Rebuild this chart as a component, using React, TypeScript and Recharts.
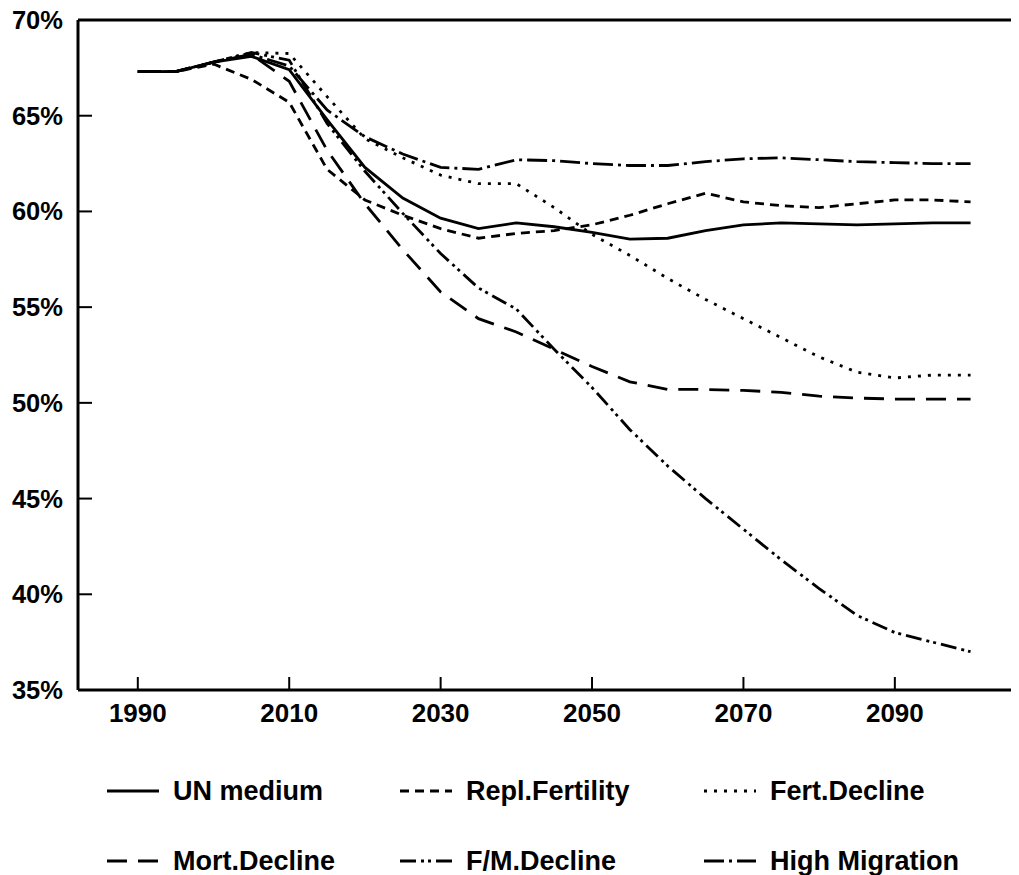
import React from "react";
import { LineChart, Line, XAxis, YAxis, ReferenceLine } from "recharts";

const years = [1990, 1995, 2000, 2005, 2010, 2015, 2020, 2025, 2030, 2035, 2040, 2045, 2050, 2055, 2060, 2065, 2070, 2075, 2080, 2085, 2090, 2095, 2100];
const unMedium = [67.3, 67.3, 67.8, 68.1, 67.4, 64.8, 62.3, 60.7, 59.65, 59.1, 59.4, 59.2, 58.9, 58.55, 58.6, 59.0, 59.3, 59.4, 59.35, 59.3, 59.35, 59.4, 59.4];
const replFertility = [67.3, 67.3, 67.7, 66.9, 65.7, 62.2, 60.6, 59.8, 59.1, 58.6, 58.85, 59.0, 59.3, 59.8, 60.4, 60.95, 60.5, 60.3, 60.2, 60.4, 60.6, 60.6, 60.5];
const fertDecline = [67.3, 67.3, 67.8, 68.3, 68.25, 66.0, 63.8, 62.8, 61.9, 61.45, 61.45, 60.2, 58.8, 57.7, 56.5, 55.4, 54.4, 53.4, 52.4, 51.6, 51.3, 51.45, 51.45];
const mortDecline = [67.3, 67.3, 67.8, 68.2, 66.8, 63.2, 60.4, 58.0, 55.8, 54.4, 53.7, 52.8, 51.9, 51.1, 50.7, 50.7, 50.65, 50.55, 50.35, 50.25, 50.2, 50.2, 50.2];
const fmDecline = [67.3, 67.3, 67.8, 68.3, 67.9, 64.6, 62.1, 59.9, 57.8, 56.0, 54.9, 52.8, 50.8, 48.6, 46.7, 45.0, 43.4, 41.8, 40.3, 38.9, 38.0, 37.5, 37.0];
const highMigration = [67.3, 67.3, 67.8, 68.2, 67.6, 65.3, 63.9, 63.0, 62.3, 62.2, 62.7, 62.65, 62.5, 62.4, 62.4, 62.6, 62.75, 62.8, 62.7, 62.6, 62.55, 62.5, 62.5];

const xTicks = [1990, 2010, 2030, 2050, 2070, 2090];
const yTicks = [35, 40, 45, 50, 55, 60, 65, 70];

const series = [
  { key: "un", name: "UN medium", values: unMedium, dash: undefined as string | undefined },
  { key: "repl", name: "Repl.Fertility", values: replFertility, dash: "9 6" },
  { key: "fert", name: "Fert.Decline", values: fertDecline, dash: "3 7" },
  { key: "mort", name: "Mort.Decline", values: mortDecline, dash: "20 11" },
  { key: "fm", name: "F/M.Decline", values: fmDecline, dash: "16 5 3 4 3 5" },
  { key: "hm", name: "High Migration", values: highMigration, dash: "20 5 3 5" },
];

const data = years.map((year, i) => {
  const row: Record<string, number> = { year };
  series.forEach((s) => {
    row[s.key] = s.values[i];
  });
  return row;
});

const FONT = '"Liberation Sans", Arial, Helvetica, sans-serif';

const XTick = (props: any) => {
  const { x, y, payload } = props;
  return (
    <g>
      <line x1={x} y1={y} x2={x} y2={y - 13} stroke="#000" strokeWidth={2} />
      <text x={x} y={y + 32} textAnchor="middle" fontFamily={FONT} fontWeight={700} fontSize={26} fill="#000">
        {payload.value}
      </text>
    </g>
  );
};

const YTick = (props: any) => {
  const { x, y, payload } = props;
  return (
    <g>
      <line x1={x} y1={y} x2={x + 14} y2={y} stroke="#000" strokeWidth={2} />
      <text x={x - 15} y={y + 9} textAnchor="end" fontFamily={FONT} fontWeight={700} fontSize={25.5} fill="#000">
        {payload.value}%
      </text>
    </g>
  );
};

const legendRows = [series.slice(0, 3), series.slice(3, 6)];
const colStarts = [99, 392, 696];

export default function App() {
  return (
    <div style={{ width: 1011, position: "relative", background: "#fff", marginTop: -8 }}>
      <LineChart width={1011} height={738} data={data} margin={{ top: 20, right: 0, bottom: 0, left: 0 }}>
        <XAxis
          dataKey="year"
          type="number"
          domain={[1982.1, 2106.4]}
          ticks={xTicks}
          allowDataOverflow
          height={48}
          tickSize={0}
          tickMargin={0}
          tickLine={false}
          axisLine={{ stroke: "#000", strokeWidth: 3 }}
          tick={<XTick />}
          interval={0}
        />
        <YAxis
          type="number"
          domain={[35, 70]}
          ticks={yTicks}
          allowDataOverflow
          width={70}
          tickSize={0}
          tickMargin={0}
          tickLine={false}
          axisLine={{ stroke: "#000", strokeWidth: 3 }}
          tick={<YTick />}
          interval={0}
        />
        <ReferenceLine y={70} stroke="#000" strokeWidth={3} />
        {series.map((s) => (
          <Line
            key={s.key}
            dataKey={s.key}
            name={s.name}
            type="linear"
            stroke="#000"
            strokeWidth={2.8}
            strokeDasharray={s.dash}
            dot={false}
            activeDot={false}
            isAnimationActive={false}
          />
        ))}
      </LineChart>
      <div style={{ position: "relative", height: 137, fontFamily: FONT, fontWeight: 700, fontSize: 27 }}>
        {legendRows.map((row, r) =>
          row.map((s, c) => (
            <div
              key={s.key}
              style={{
                position: "absolute",
                left: colStarts[c],
                top: 18 + r * 70,
                height: 70,
                display: "flex",
                alignItems: "center",
                whiteSpace: "nowrap",
              }}
            >
              <svg width={52} height={20} style={{ marginRight: 14 }}>
                <line x1={0} y1={10} x2={52} y2={10} stroke="#000" strokeWidth={2.8} strokeDasharray={s.dash} />
              </svg>
              <span>{s.name}</span>
            </div>
          ))
        )}
      </div>
    </div>
  );
}
